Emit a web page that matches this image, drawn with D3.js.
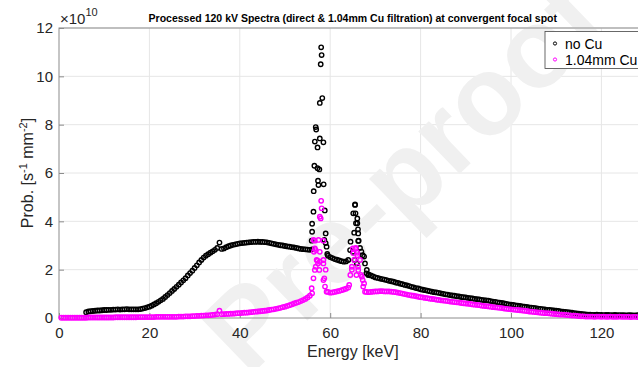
<!DOCTYPE html>
<html>
<head>
<meta charset="utf-8">
<script src="https://cdn.jsdelivr.net/npm/d3@7"></script>
<style>
  html, body { margin: 0; padding: 0; background: #fff; }
  svg { display: block; font-family: "Liberation Sans", Arial, Helvetica, sans-serif; }
</style>
</head>
<body>
<svg id="chart" width="638" height="367"></svg>
<script>
// chart texts
const chartTitle = "Processed 120 kV Spectra (direct & 1.04mm Cu filtration) at convergent focal spot";
const seriesNames = ["no Cu", "1.04mm Cu"];
const xTicks = [0, 20, 40, 60, 80, 100, 120];
const yTicks = [0, 2, 4, 6, 8, 10, 12];

// continuum values (x 1e10), sampled every 0.5 keV, null where the peaks are
const energyStep = 0.5;
const noCuStart = 6.0;
const noCuValues = [
  0.24, 0.27, 0.28, 0.29, 0.30, 0.31, 0.31, 0.32, 0.33,
  0.33, 0.34, 0.34, 0.35, 0.35, 0.36, 0.35, 0.36, 0.36, 0.37,
  0.36, 0.36, 0.36, 0.36, 0.36, 0.37, 0.39, 0.41, 0.44, 0.47,
  0.51, 0.56, 0.61, 0.67, 0.73, 0.79, 0.87, 0.95, 1.03, 1.12,
  1.20, 1.29, 1.38, 1.47, 1.56, 1.65, 1.76, 1.86, 1.96, 2.07,
  2.18, 2.30, 2.40, 2.50, 2.58, 2.64, 2.70, 2.76, 2.82, 2.90,
  3.12, 2.86, 2.88, 2.93, 2.97, 3.00, 3.03, 3.05, 3.07, 3.09,
  3.10, 3.11, 3.12, 3.13, 3.14, 3.15, 3.15, 3.16, 3.15, 3.15,
  3.14, 3.13, 3.11, 3.09, 3.07, 3.05, 3.03, 3.01, 3.00, 2.98,
  2.96, 2.95, 2.93, 2.92, 2.90, 2.88, 2.86, 2.85, 2.84, 2.83,
  2.82, 2.84, null, null, null, null, null, null, 2.58, 2.52,
  2.48, 2.44, 2.41, 2.38, 2.35, 2.33, 2.34, 2.40, null, null,
  null, null, null, null, null, 1.85, 1.80, 1.76, 1.72, 1.68,
  1.66, 1.63, 1.61, 1.59, 1.57, 1.54, 1.52, 1.50, 1.47, 1.45,
  1.42, 1.40, 1.37, 1.35, 1.32, 1.29, 1.27, 1.24, 1.22, 1.19,
  1.17, 1.15, 1.13, 1.11, 1.09, 1.07, 1.06, 1.04, 1.02, 1.00,
  0.98, 0.97, 0.95, 0.93, 0.92, 0.90, 0.89, 0.87, 0.86, 0.85,
  0.83, 0.82, 0.81, 0.79, 0.78, 0.77, 0.75, 0.74, 0.73, 0.72,
  0.70, 0.68, 0.67, 0.65, 0.63, 0.62, 0.60, 0.58, 0.56, 0.55,
  0.54, 0.52, 0.51, 0.50, 0.48, 0.47, 0.46, 0.44, 0.43, 0.42,
  0.41, 0.39, 0.38, 0.37, 0.36, 0.34, 0.33, 0.32, 0.31, 0.30,
  0.29, 0.27, 0.26, 0.25, 0.24, 0.23, 0.22, 0.20, 0.19, 0.18,
  0.17, 0.16, 0.15, 0.14, 0.14, 0.13, 0.13, 0.14, 0.13, 0.13,
  0.12, 0.13, 0.13, 0.12, 0.12, 0.13, 0.12, 0.12, 0.12, 0.12,
  0.11, 0.12, 0.12, 0.11, 0.11, 0.12, 0.11, 0.11, 0.11, 0.11
];

const cuStart = 0.5;
const cuValues = [
  0.01, 0.01, 0.01, 0.01, 0.01, 0.01, 0.01, 0.01, 0.01, 0.01,
  0.01, 0.01, 0.02, 0.02, 0.02, 0.02, 0.02, 0.02, 0.02, 0.02,
  0.02, 0.02, 0.02, 0.02, 0.03, 0.03, 0.03, 0.03, 0.03, 0.03,
  0.03, 0.03, 0.03, 0.03, 0.04, 0.04, 0.04, 0.04, 0.04, 0.04,
  0.04, 0.04, 0.05, 0.05, 0.05, 0.05, 0.05, 0.05, 0.05, 0.05,
  0.05, 0.05, 0.06, 0.06, 0.06, 0.07, 0.07, 0.07, 0.08, 0.08,
  0.09, 0.09, 0.10, 0.10, 0.11, 0.11, 0.12, 0.13, 0.14, 0.16,
  0.30, 0.16, 0.16, 0.17, 0.17, 0.18, 0.18, 0.19, 0.20, 0.20,
  0.21, 0.22, 0.22, 0.23, 0.24, 0.25, 0.26, 0.27, 0.28, 0.29,
  0.30, 0.31, 0.33, 0.35, 0.36, 0.38, 0.40, 0.42, 0.45, 0.47,
  0.50, 0.53, 0.56, 0.60, 0.63, 0.66, 0.70, 0.74, 0.79, 0.85,
  0.92, 1.02, null, null, null, null, null, null, 1.08, 1.05,
  1.06, 1.08, 1.10, 1.12, 1.15, 1.18, 1.21, 1.26, null, null,
  null, null, null, null, null, 1.08, 1.07, 1.08, 1.09, 1.10,
  1.10, 1.11, 1.11, 1.10, 1.10, 1.10, 1.09, 1.08, 1.07, 1.05,
  1.03, 1.01, 0.99, 0.97, 0.95, 0.93, 0.92, 0.90, 0.88, 0.86,
  0.85, 0.83, 0.82, 0.80, 0.79, 0.78, 0.76, 0.75, 0.73, 0.72,
  0.71, 0.70, 0.68, 0.67, 0.66, 0.65, 0.64, 0.62, 0.61, 0.60,
  0.59, 0.58, 0.56, 0.55, 0.54, 0.53, 0.51, 0.50, 0.49, 0.48,
  0.47, 0.45, 0.44, 0.43, 0.42, 0.41, 0.39, 0.38, 0.37, 0.36,
  0.35, 0.34, 0.33, 0.32, 0.31, 0.30, 0.29, 0.27, 0.26, 0.25,
  0.24, 0.23, 0.22, 0.21, 0.20, 0.20, 0.19, 0.18, 0.17, 0.16,
  0.15, 0.14, 0.14, 0.13, 0.12, 0.11, 0.10, 0.10, 0.09, 0.08,
  0.07, 0.07, 0.06, 0.06, 0.06, 0.06, 0.05, 0.06, 0.06, 0.05,
  0.06, 0.05, 0.05, 0.06, 0.05, 0.05, 0.05, 0.06, 0.05, 0.05,
  0.05, 0.05, 0.04, 0.05, 0.05, 0.04, 0.05, 0.04, 0.04, 0.04
];

// scattered points of the characteristic peaks, [energy keV, value x 1e10]
const noCuPeaks = [
  [55.9, 3.2], [56.0, 3.57], [56.0, 3.9], [56.3, 4.4], [56.35, 5.25], [56.5, 6.3],
  [56.6, 7.3], [56.8, 7.9], [56.9, 7.8], [57.2, 7.06], [57.2, 6.2], [57.3, 5.68],
  [57.4, 5.5], [57.6, 6.15], [57.7, 7.43], [57.7, 8.9], [57.9, 10.5], [58.0, 11.2],
  [58.1, 10.88], [58.25, 9.1], [58.5, 7.27], [58.55, 5.53], [58.7, 3.23], [58.8, 4.45],
  [59.0, 3.5], [59.0, 3.1], [59.2, 2.95], [59.35, 2.65],
  [64.4, 2.81], [64.5, 3.16], [65.0, 2.74], [65.1, 4.33], [65.3, 3.53], [65.4, 2.4],
  [65.5, 4.7], [65.5, 4.68], [65.6, 4.33], [65.7, 3.92], [65.9, 2.26], [66.0, 4.12],
  [66.0, 3.92], [66.15, 3.67], [66.2, 3.19], [66.2, 3.5], [66.3, 3.2], [66.6, 2.9],
  [66.9, 2.75], [67.2, 2.6], [67.5, 2.54], [67.7, 2.26], [68.1, 1.99], [68.4, 1.78]
];
const cuPeaks = [
  [55.9, 1.23], [56.3, 1.64], [56.3, 3.23], [56.4, 2.74], [56.6, 1.99], [56.6, 2.88],
  [56.6, 3.2], [56.8, 2.81], [56.8, 2.12], [57.0, 2.4], [57.2, 2.37], [57.3, 2.26],
  [57.4, 3.23], [57.6, 1.99], [57.7, 2.74], [57.7, 2.33], [57.7, 4.19], [57.9, 4.12],
  [58.0, 4.85], [58.1, 4.54], [58.5, 3.2], [58.5, 2.4], [58.5, 2.26], [58.5, 1.57],
  [58.7, 1.64], [58.85, 1.3], [59.0, 2.0], [59.2, 1.09],
  [64.2, 1.37], [64.45, 1.78], [64.8, 2.12], [64.8, 2.0], [65.0, 2.88], [65.1, 2.68],
  [65.3, 2.4], [65.5, 2.88], [65.7, 2.9], [65.8, 1.78], [66.0, 2.6], [66.0, 2.7],
  [66.15, 2.12], [66.2, 1.99], [66.6, 2.4], [66.8, 1.78], [67.0, 1.71], [67.2, 1.57],
  [67.3, 1.3], [67.5, 1.43], [67.7, 1.09]
];

const colors = ["#000000", "#ff00ff"];

// turn the continuum + peak lists into one point list per series
function toPoints(start, values, peaks) {
  const pts = values
    .map((v, i) => ({ e: start + i * energyStep, v: v }))
    .filter(d => d.v !== null);
  return pts.concat(peaks.map(p => ({ e: p[0], v: p[1] })));
}
const series = [
  toPoints(noCuStart, noCuValues, noCuPeaks),
  toPoints(cuStart, cuValues, cuPeaks)
];

const svg = d3.select("#chart");

const x = d3.scaleLinear().domain([0, 130]).range([59, 646.6]);
const y = d3.scaleLinear().domain([0, 12]).range([318, 28]);

// grid
svg.append("g").selectAll("line")
  .data(xTicks.slice(1))
  .join("line")
  .attr("x1", d => x(d)).attr("x2", d => x(d))
  .attr("y1", y(0)).attr("y2", y(12))
  .attr("stroke", "#e6e6e6");
svg.append("g").selectAll("line")
  .data(yTicks.slice(1))
  .join("line")
  .attr("x1", x(0)).attr("x2", x(130))
  .attr("y1", d => y(d)).attr("y2", d => y(d))
  .attr("stroke", "#e6e6e6");

// faint watermark of the source page
svg.append("text")
  .attr("transform", "translate(248,378) rotate(-44)")
  .attr("font-size", 112)
  .attr("font-weight", "bold")
  .attr("fill", "#f0f0f0")
  .text("Pre-proof");

// axes box
svg.append("rect")
  .attr("x", x(0)).attr("y", y(12))
  .attr("width", x(130) - x(0)).attr("height", y(0) - y(12))
  .attr("fill", "none")
  .attr("stroke", "#8c8c8c");

// axes (ticks point inwards like matlab)
const xAxis = svg.append("g")
  .attr("transform", `translate(0,${y(0)})`)
  .call(d3.axisBottom(x).tickValues(xTicks).tickSize(-5).tickPadding(9));
const yAxis = svg.append("g")
  .attr("transform", `translate(${x(0)},0)`)
  .call(d3.axisLeft(y).tickValues(yTicks).tickSize(-5).tickPadding(6));
[xAxis, yAxis].forEach(g => {
  g.select(".domain").remove();
  g.selectAll(".tick line").attr("stroke", "#8c8c8c");
  g.selectAll("text")
    .style("font-size", "15px")
    .style("font-family", "'Liberation Sans', Arial, sans-serif")
    .attr("fill", "#262626");
});

// exponent label
const expo = svg.append("text")
  .attr("x", 60).attr("y", 24)
  .attr("fill", "#262626")
  .style("font-size", "15px");
expo.append("tspan").text("\u00d710");
expo.append("tspan").attr("dy", -8).style("font-size", "11px").text("10");

// points
series.forEach((pts, i) => {
  svg.append("g").selectAll("circle")
    .data(pts)
    .join("circle")
    .attr("cx", d => x(d.e))
    .attr("cy", d => y(d.v))
    .attr("r", 2.2)
    .attr("fill", "none")
    .attr("stroke", colors[i])
    .attr("stroke-width", 1.4);
});

// title
const title = svg.append("text")
  .attr("x", (x(0) + x(130)) / 2).attr("y", 22)
  .attr("text-anchor", "middle")
  .attr("font-weight", "bold")
  .attr("fill", "#000")
  .style("font-size", "10px")
  .text(chartTitle);
const tw = title.node().getComputedTextLength();
title.style("font-size", (10 * 409 / tw) + "px");

// axis labels
svg.append("text")
  .attr("x", (x(0) + x(130)) / 2).attr("y", 357)
  .attr("text-anchor", "middle")
  .attr("fill", "#262626")
  .style("font-size", "16px")
  .text("Energy [keV]");

const yl = svg.append("text")
  .attr("transform", `translate(33,${(y(0) + y(12)) / 2}) rotate(-90)`)
  .attr("text-anchor", "middle")
  .attr("fill", "#262626")
  .style("font-size", "16px");
yl.append("tspan").text("Prob. [s");
yl.append("tspan").attr("dy", -6).style("font-size", "11px").text("-1");
yl.append("tspan").attr("dy", 6).text(" mm");
yl.append("tspan").attr("dy", -6).style("font-size", "11px").text("-2");
yl.append("tspan").attr("dy", 6).text("]");

// legend
const legend = svg.append("g").attr("transform", "translate(545,31.5)");
legend.append("rect")
  .attr("width", 120).attr("height", 37)
  .attr("fill", "#fff")
  .attr("stroke", "#444")
  .attr("stroke-width", 0.8);
seriesNames.forEach((name, i) => {
  legend.append("circle")
    .attr("cx", 10).attr("cy", 12 + i * 16)
    .attr("r", 1.6)
    .attr("fill", "none")
    .attr("stroke", colors[i])
    .attr("stroke-width", 1);
  legend.append("text")
    .attr("x", 20).attr("y", 17 + i * 16)
    .attr("fill", "#000")
    .style("font-size", "14px")
    .text(name);
});
</script>
</body>
</html>
